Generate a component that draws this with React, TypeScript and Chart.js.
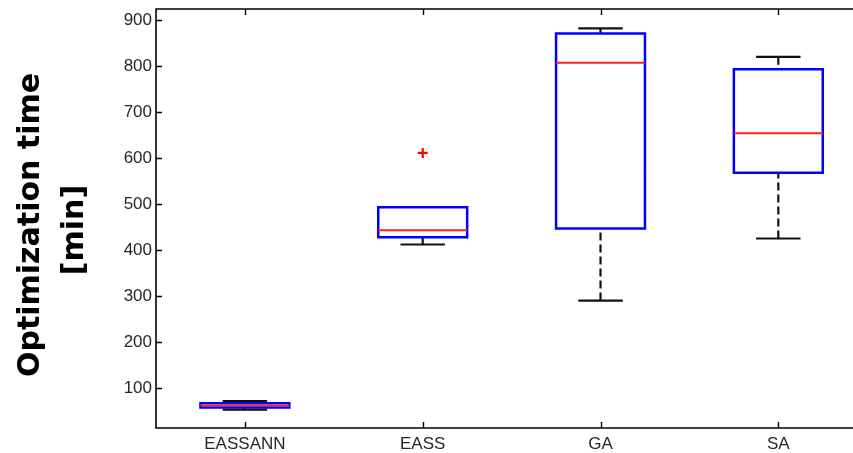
import React, { useEffect, useRef } from "react";
import { Chart, registerables } from "chart.js";

Chart.register(...registerables);

const categories = ["EASSANN", "EASS", "GA", "SA"];
const whiskerLow = [53, 412, 290, 425];
const quartile1 = [57.5, 428, 447, 568];
const medians = [62, 443, 807, 654];
const quartile3 = [67, 493, 871, 793];
const whiskerHigh = [71.5, 493, 882, 820];
const outlierCategory = [2];
const outlierValue = [611];
const yTicks = [100, 200, 300, 400, 500, 600, 700, 800, 900];
const yTitleLines = ["Optimization time", "[min]"];

const BOX_HALF = 0.25;
const CAP_HALF = 0.125;

type P = { x: number; y: number | null };

function buildBoxes(): P[] {
  const d: P[] = [];
  categories.forEach((_, i) => {
    const x = i + 1;
    d.push({ x: x - BOX_HALF, y: quartile1[i] });
    d.push({ x: x + BOX_HALF, y: quartile1[i] });
    d.push({ x: x + BOX_HALF, y: quartile3[i] });
    d.push({ x: x - BOX_HALF, y: quartile3[i] });
    d.push({ x: x - BOX_HALF, y: quartile1[i] });
    d.push({ x: x, y: null });
  });
  return d;
}
function buildWhiskers(): P[] {
  const d: P[] = [];
  categories.forEach((_, i) => {
    const x = i + 1;
    if (whiskerHigh[i] > quartile3[i]) {
      d.push({ x, y: whiskerHigh[i] }, { x, y: quartile3[i] }, { x, y: null });
    }
    if (whiskerLow[i] < quartile1[i]) {
      d.push({ x, y: whiskerLow[i] }, { x, y: quartile1[i] }, { x, y: null });
    }
  });
  return d;
}
function buildCaps(): P[] {
  const d: P[] = [];
  categories.forEach((_, i) => {
    const x = i + 1;
    if (whiskerHigh[i] > quartile3[i]) {
      d.push({ x: x - CAP_HALF, y: whiskerHigh[i] }, { x: x + CAP_HALF, y: whiskerHigh[i] }, { x, y: null });
    }
    if (whiskerLow[i] < quartile1[i]) {
      d.push({ x: x - CAP_HALF, y: whiskerLow[i] }, { x: x + CAP_HALF, y: whiskerLow[i] }, { x, y: null });
    }
  });
  return d;
}
function buildMedians(): P[] {
  const d: P[] = [];
  categories.forEach((_, i) => {
    const x = i + 1;
    d.push({ x: x - BOX_HALF, y: medians[i] }, { x: x + BOX_HALF, y: medians[i] }, { x, y: null });
  });
  return d;
}

const framePlugin = {
  id: "frame",
  afterDraw(chart: any) {
    const { ctx, chartArea } = chart;
    const { left, right, top, bottom } = chartArea;
    const xs = chart.scales.x;
    const ys = chart.scales.y;
    ctx.save();
    ctx.strokeStyle = "#000";
    ctx.lineWidth = 1.6;
    ctx.beginPath();
    ctx.moveTo(right + 2, top);
    ctx.lineTo(left, top);
    ctx.lineTo(left, bottom);
    ctx.lineTo(right + 2, bottom);
    ctx.stroke();
    ctx.lineWidth = 1.4;
    ctx.beginPath();
    yTicks.forEach((v) => {
      const py = Math.round(ys.getPixelForValue(v)) + 0.5;
      ctx.moveTo(left, py);
      ctx.lineTo(left + 6, py);
    });
    categories.forEach((_, i) => {
      const px = Math.round(xs.getPixelForValue(i + 1)) + 0.5;
      ctx.moveTo(px, bottom);
      ctx.lineTo(px, bottom - 6);
      ctx.moveTo(px, top);
      ctx.lineTo(px, top + 6);
    });
    ctx.stroke();

    // y-axis title
    ctx.fillStyle = "#000";
    ctx.font = "bold 30px 'DejaVu Sans'";
    ctx.textAlign = "center";
    ctx.textBaseline = "middle";
    const centers = [
      { x: 31, y: 225 },
      { x: 75, y: 230 },
    ];
    yTitleLines.forEach((line, k) => {
      ctx.save();
      ctx.translate(centers[k].x, centers[k].y);
      ctx.rotate(-Math.PI / 2);
      ctx.fillText(line, 0, 0);
      ctx.restore();
    });
    ctx.restore();
  },
};

export default function App() {
  const ref = useRef<HTMLCanvasElement | null>(null);
  useEffect(() => {
    if (!ref.current) return;
    const lineBase = {
      type: "line" as const,
      pointRadius: 0,
      pointHoverRadius: 0,
      spanGaps: false,
      fill: false,
      tension: 0,
    };
    const chart = new Chart(ref.current, {
      type: "line",
      data: {
        datasets: [
          {
            ...lineBase,
            label: "median",
            data: buildMedians() as any,
            borderColor: "#ff2020",
            borderWidth: 2,
            order: 0,
          },
          {
            type: "scatter",
            label: "outliers",
            data: outlierCategory.map((c, k) => ({ x: c, y: outlierValue[k] })),
            pointStyle: "cross",
            pointRadius: 5,
            borderColor: "#ff0000",
            backgroundColor: "#ff0000",
            borderWidth: 2.2,
            order: 0,
          } as any,
          {
            ...lineBase,
            label: "box",
            data: buildBoxes() as any,
            borderColor: "#0000ff",
            borderWidth: 2.5,
            borderCapStyle: "square",
            borderJoinStyle: "miter",
            order: 1,
          },
          {
            ...lineBase,
            label: "caps",
            data: buildCaps() as any,
            borderColor: "#111111",
            borderWidth: 2.2,
            order: 2,
          },
          {
            ...lineBase,
            label: "whiskers",
            data: buildWhiskers() as any,
            borderColor: "#111111",
            borderWidth: 2.2,
            borderDash: [8, 4],
            order: 3,
          },
        ] as any,
      },
      options: {
        responsive: false,
        animation: false,
        events: [],
        layout: { autoPadding: false, padding: { top: 9, right: 0, bottom: 0, left: 0 } },
        plugins: {
          legend: { display: false },
          tooltip: { enabled: false },
          title: { display: false },
        },
        scales: {
          x: {
            type: "linear",
            min: 0.5,
            max: 4.42,
            grid: { display: false, drawTicks: false },
            border: { display: false },
            afterBuildTicks: (scale: any) => {
              scale.ticks = categories.map((_, i) => ({ value: i + 1 }));
            },
            afterFit: (scale: any) => {
              scale.height = 25;
              scale.paddingLeft = 0;
              scale.paddingRight = 0;
            },
            ticks: {
              autoSkip: false,
              maxRotation: 0,
              padding: 6,
              color: "#262626",
              font: { family: "'Liberation Sans', Arial, sans-serif", size: 17 },
              callback: (v: any) => categories[Math.round(Number(v)) - 1] ?? "",
            },
          },
          y: {
            type: "linear",
            min: 13,
            max: 924,
            grid: { display: false, drawTicks: false },
            border: { display: false },
            afterBuildTicks: (scale: any) => {
              scale.ticks = yTicks.map((v) => ({ value: v }));
            },
            afterFit: (scale: any) => {
              scale.width = 156;
              scale.paddingTop = 0;
              scale.paddingBottom = 0;
            },
            ticks: {
              padding: 4,
              color: "#262626",
              font: { family: "'Liberation Sans', Arial, sans-serif", size: 17 },
              callback: (v: any) => String(v),
            },
          },
        },
      },
      plugins: [framePlugin],
    });
    return () => chart.destroy();
  }, []);
  return (
    <canvas
      ref={ref}
      width={853}
      height={453}
      style={{ position: "fixed", left: 0, top: 0, display: "block", background: "#fff" }}
    />
  );
}
